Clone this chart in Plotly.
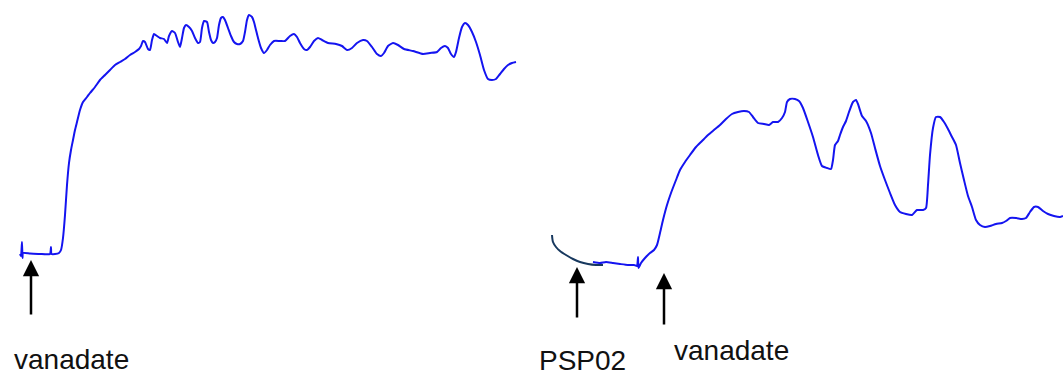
import plotly.graph_objects as go

# ---- Data (time in a.u., signal in a.u.) ----
t_left = [20, 21, 22, 22.5, 23, 30, 40, 50, 51, 51.5, 55, 59, 61, 63, 65, 67, 69, 71, 73, 75, 77, 80, 83, 87, 90,
          95, 100, 105, 110, 115, 120, 125, 130, 135, 139, 141, 143, 145, 148, 150, 152, 154, 157, 160, 164, 167,
          169, 172, 175, 178, 180, 182, 184, 186, 189, 192, 195, 198, 200, 202, 204, 207, 209, 211, 213, 215, 217,
          219, 221, 223, 225, 228, 231, 234, 237, 240, 243, 245, 247, 249, 252, 254, 256, 258, 261, 264, 267, 270,
          274, 280, 285, 290, 294, 297, 300, 304, 307, 310, 314, 318, 322, 328, 336, 342, 347, 352, 357, 363, 367,
          372, 377, 381, 384, 388, 393, 398, 404, 413, 423, 430, 437, 441, 445, 448, 451, 454, 456, 459, 462, 465,
          468, 472, 476, 480, 484, 488, 492, 496, 500, 504, 508, 512, 516]
s_left = [122, 120, 134, 118, 123, 122.5, 122, 122, 129, 122, 122, 123, 126, 138, 161, 191, 213, 226, 236, 246, 254,
          266, 274, 279, 283, 289, 296, 301, 306, 311, 314, 317, 321, 324, 327, 330, 335, 334, 327, 326, 336, 342,
          340, 338, 337, 333, 340, 345, 343, 334, 329, 338, 348, 351, 349, 345, 338, 333, 334, 348, 355, 354, 344,
          336, 333, 334, 338, 351, 358, 359, 356, 348, 340, 334, 332, 332, 335, 344, 356, 361, 359, 354, 346, 338,
          328, 323, 326, 331, 335, 335, 335, 340, 342, 339, 333, 327, 326, 329, 335, 338, 336, 333, 332, 330, 326,
          328, 333, 336, 335, 329, 322, 320, 323, 330, 333, 331, 327, 325, 322, 323, 324, 328, 330, 328, 322, 319,
          324, 338, 349, 353, 351, 344, 334, 321, 306, 297, 296, 297, 302, 307, 311, 313, 314]

t_right = [593, 600, 606, 613, 620, 628, 634, 637, 638, 638.5, 641, 645, 650, 654, 657, 660, 663, 667, 671, 676, 680,
           685, 690, 696, 702, 708, 714, 720, 726, 732, 738, 744, 749, 753, 758, 764, 769, 773, 778, 782, 785, 787,
           790, 795, 799, 803, 808, 813, 818, 822, 827, 831, 833, 835, 838, 840, 843, 846, 849, 853, 856, 858, 862,
           866, 871, 875, 880, 885, 890, 895, 900, 906, 912, 917, 923, 926, 928, 930, 933, 936, 940, 944, 948, 952,
           956, 960, 964, 968, 972, 976, 980, 985, 990, 996, 1002, 1006, 1010, 1016, 1022, 1026, 1030, 1034, 1038,
           1043, 1048, 1054, 1060, 1063]
s_right = [114, 113, 114, 113, 112, 111, 111, 110, 119, 108, 113, 118, 123, 126, 131, 143, 156, 171, 183, 196, 206,
           214, 221, 229, 235, 241, 246, 251, 257, 262, 264, 265, 264, 259, 253, 252, 251, 254, 254, 258, 264, 274,
           277, 277, 275, 268, 254, 239, 221, 210, 208, 207, 216, 231, 235, 241, 249, 255, 264, 274, 276, 272, 260,
           255, 243, 228, 210, 196, 183, 171, 164, 162, 161, 166, 166, 168, 191, 221, 248, 259, 259, 254, 247, 239,
           231, 213, 196, 180, 169, 156, 151, 149, 150, 152, 153, 155, 158, 158, 157, 158, 164, 169, 169, 165, 162,
           160, 159, 160]

t_psp = [552, 553, 556, 560, 566, 573, 580, 588, 596, 603]
s_psp = [141, 134, 129, 125, 121, 117, 114, 112, 111, 111]

labels = ["vanadate", "PSP02", "vanadate"]

BLUE = "#1414F0"
NAVY = "#17385E"

fig = go.Figure()
fig.add_trace(go.Scatter(x=t_left, y=s_left, mode="lines",
                         line=dict(color=BLUE, width=2, shape="spline", smoothing=0.5)))
fig.add_trace(go.Scatter(x=t_psp, y=s_psp, mode="lines",
                         line=dict(color=NAVY, width=2, shape="spline", smoothing=0.8)))
fig.add_trace(go.Scatter(x=t_right, y=s_right, mode="lines",
                         line=dict(color=BLUE, width=2, shape="spline", smoothing=0.5)))

font = dict(family="Arial, Liberation Sans, sans-serif", size=28, color="#111111")

# arrows (tip at x,y; tail at ax,ay)
for (xt, ytip, ytail) in [(31, 116, 60), (577, 109, 57), (664, 103, 50)]:
    fig.add_annotation(x=xt, y=ytip, ax=xt, ay=ytail, xref="x", yref="y", axref="x", ayref="y",
                       text="", showarrow=True, arrowhead=2, arrowsize=1.3, arrowwidth=2.5,
                       arrowcolor="#000000")

# labels
for (lab, xc, yc) in [(labels[0], 71, 17), (labels[1], 582, 15.5), (labels[2], 731, 25.7)]:
    fig.add_annotation(x=xc, y=yc, xref="x", yref="y", text=lab, showarrow=False,
                       font=font, xanchor="center", yanchor="middle")

fig.update_xaxes(range=[0, 1063], visible=False)
fig.update_yaxes(range=[0, 376], visible=False)
fig.update_layout(width=1063, height=376, margin=dict(l=0, r=0, t=0, b=0),
                  paper_bgcolor="white", plot_bgcolor="white", showlegend=False)

fig.write_html("out.html", config={"responsive": False, "displayModeBar": False},
               post_script="document.body.style.margin='0';document.body.style.overflow='hidden';")
